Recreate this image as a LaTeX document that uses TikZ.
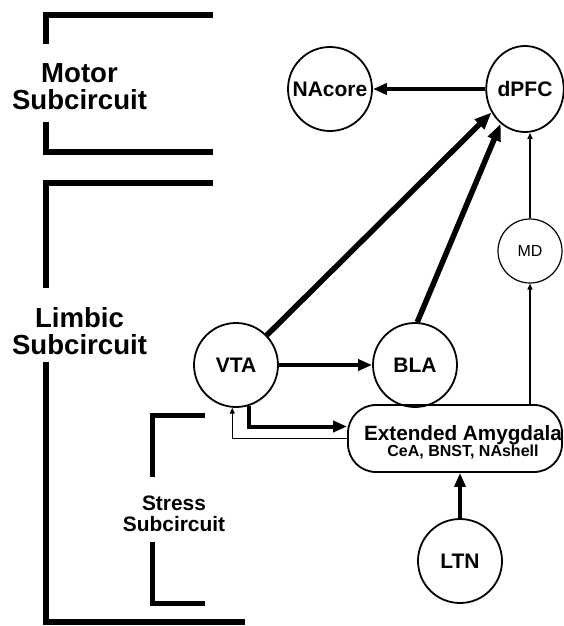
\documentclass[tikz,border=0pt]{standalone}
\usepackage{fontspec}
\setmainfont{Liberation Sans}
\usetikzlibrary{positioning, arrows.meta, shapes.geometric}

\begin{document}
\begin{tikzpicture}[
  x=1pt, y=-1pt,
  every node/.style={align=center, inner sep=0pt},
  region/.style   ={font=\fontsize{27.6}{27}\selectfont\bfseries},
  subregion/.style={font=\fontsize{20.9}{21}\selectfont\bfseries},
  bracket/.style  ={line width=6pt, miter limit=10},
  area/.style     ={draw, circle, line width=1.8pt, minimum size=84pt,
                    font=\fontsize{21}{21}\selectfont\bfseries},
  relay/.style    ={draw, circle, line width=1.2pt, minimum size=64pt,
                    font=\fontsize{16}{16}\selectfont},
  complex/.style  ={draw, rounded corners=28pt, line width=1.8pt,
                    minimum width=214pt, minimum height=67pt},
  strong/.style   ={-{Triangle[length=14pt, width=11pt]}, line width=4pt},
  heavy/.style    ={-{Triangle[length=17pt, width=13pt]}, line width=5.5pt},
  weak/.style     ={-{Triangle[length=6pt, width=5pt]}, line width=1.3pt},
]
\useasboundingbox (0,0) rectangle (564,626);

% ---- Subcircuit brackets and labels ---------------------------------------
\draw[bracket] (213,15) -| (46,44);
\draw[bracket] (46,122) |- (213,152);
\node[region] (motor) at (79.5,86.5) {Motor\\Subcircuit};

\draw[bracket] (213,183) -| (46,288);
\draw[bracket] (46,362) |- (245,622);
\node[region] (limbic) at (79.5,331) {Limbic\\Subcircuit};

\draw[bracket, line width=5pt] (205,415) -| (152,477);
\draw[bracket, line width=5pt] (152,542) |- (205,603);
\node[subregion] (stress) at (174,514) {Stress\\Subcircuit};

% ---- Regions ---------------------------------------------------------------
\node[area]    (nacore) at (330,89)    {NAcore};
\node[area, ellipse, minimum width=76pt, minimum height=86pt]
               (dpfc)   at (525,89)    {dPFC};
\node[relay]   (md)     at (530,251)   {MD};
\node[area]    (vta)    at (236,365)   {VTA};
\node[area]    (bla)    at (415,365)   {BLA};
\node[complex] (ext)    at (455,438.5) {};
\node[font=\fontsize{20.7}{16}\selectfont\bfseries]
               (extname) at (463,442)  {Extended Amygdala\\
  {\fontsize{16}{16}\selectfont CeA, BNST, NAshell}};
\node[area]    (ltn)    at (460,561)   {LTN};

% ---- Projections -------------------------------------------------------------
\draw[strong] (dpfc) -- (nacore);
\draw[heavy]  (vta.44) -- (dpfc.215);
\draw[heavy]  (bla.87) -- (dpfc.235);
\draw[strong] (vta) -- (bla);
\draw[weak]   (md.north) -- (md.north |- dpfc.south);
\draw[weak]   (ext.north -| md) -- (md.south);

% VTA down into the extended amygdala, and the thin return path
\draw[strong] (vta.288) |- ([yshift=12pt]ext.west);
\draw[weak]   (ext.west) -| (vta.265);

\draw[strong] (ltn.north) -- (ltn.north |- ext.south);
\end{tikzpicture}
\end{document}
